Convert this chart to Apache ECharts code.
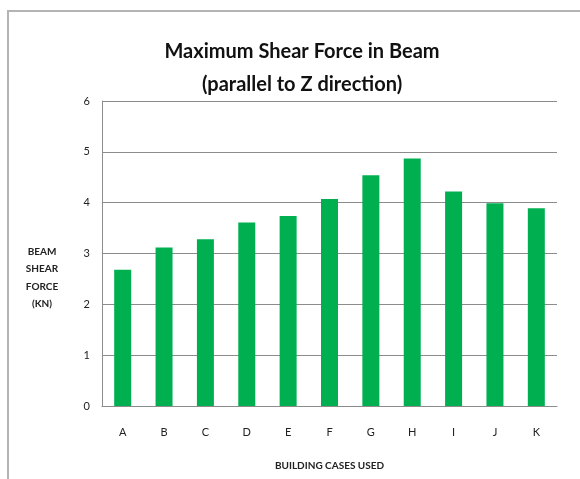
<!DOCTYPE html>
<html>
<head>
<meta charset="utf-8">
<script src="https://cdn.jsdelivr.net/npm/echarts@6/dist/echarts.min.js"></script>
<style>
    html, body { margin: 0; padding: 0; background: #fff; }
    #chart { width: 580px; height: 479px; }
</style>
</head>
<body>
<div id="chart"></div>
<script>
// Chart data
var categories = ['A', 'B', 'C', 'D', 'E', 'F', 'G', 'H', 'I', 'J', 'K'];
var shearForce = [2.68, 3.12, 3.28, 3.61, 3.74, 4.07, 4.54, 4.87, 4.22, 3.99, 3.89];
var yTicks = [0, 1, 2, 3, 4, 5, 6];

var fontFamily = 'Lato, "Open Sans", sans-serif';

document.addEventListener('DOMContentLoaded', function() {
    var element = document.getElementById('chart');
    var chart = echarts.init(element);

    chart.setOption({
        animation: false,
        textStyle: { fontFamily: fontFamily },

        graphic: [
            // Picture frame (top and left edges only)
            {
                type: 'polyline',
                shape: { points: [[8, 479], [8, 11], [580, 11]] },
                style: { stroke: '#b4b4b4', lineWidth: 2, fill: null }
            },
            // Y axis title, sits a bit below the plot middle
            {
                type: 'text',
                x: 42,
                y: 243,
                style: {
                    text: 'BEAM\nSHEAR\nFORCE\n(KN)',
                    fontFamily: fontFamily,
                    fontSize: 10,
                    fontWeight: 'bold',
                    fill: '#222',
                    lineHeight: 17.5,
                    align: 'center',
                    verticalAlign: 'top'
                }
            }
        ],

        title: {
            text: 'Maximum Shear Force in Beam\n(parallel to Z direction)',
            left: 297,
            top: 30,
            textAlign: 'center',
            textStyle: {
                fontFamily: fontFamily,
                fontSize: 20,
                fontWeight: 'bold',
                color: '#111',
                lineHeight: 33
            }
        },

        grid: {
            left: 102,
            right: 23,
            top: 101,
            bottom: 73,
            containLabel: false
        },

        xAxis: {
            type: 'category',
            data: categories,
            name: 'BUILDING CASES USED',
            nameLocation: 'middle',
            nameGap: 55,
            nameTextStyle: { fontSize: 10, fontWeight: 'bold', color: '#222' },
            axisLine: { lineStyle: { color: '#8c8c8c', width: 1 } },
            axisTick: { show: false },
            axisLabel: { fontSize: 11, color: '#222', margin: 21 }
        },

        yAxis: {
            type: 'value',
            min: yTicks[0],
            max: yTicks[yTicks.length - 1],
            interval: 1,
            axisLine: { show: true, lineStyle: { color: '#8c8c8c', width: 1 } },
            axisTick: { show: false },
            axisLabel: { fontSize: 11, color: '#222', margin: 12 },
            splitLine: { lineStyle: { color: '#8c8c8c', width: 1 } }
        },

        series: [
            {
                name: 'Shear Force',
                type: 'bar',
                data: shearForce,
                barWidth: 17,
                itemStyle: { color: '#00b050' }
            }
        ]
    });
});
</script>
</body>
</html>
